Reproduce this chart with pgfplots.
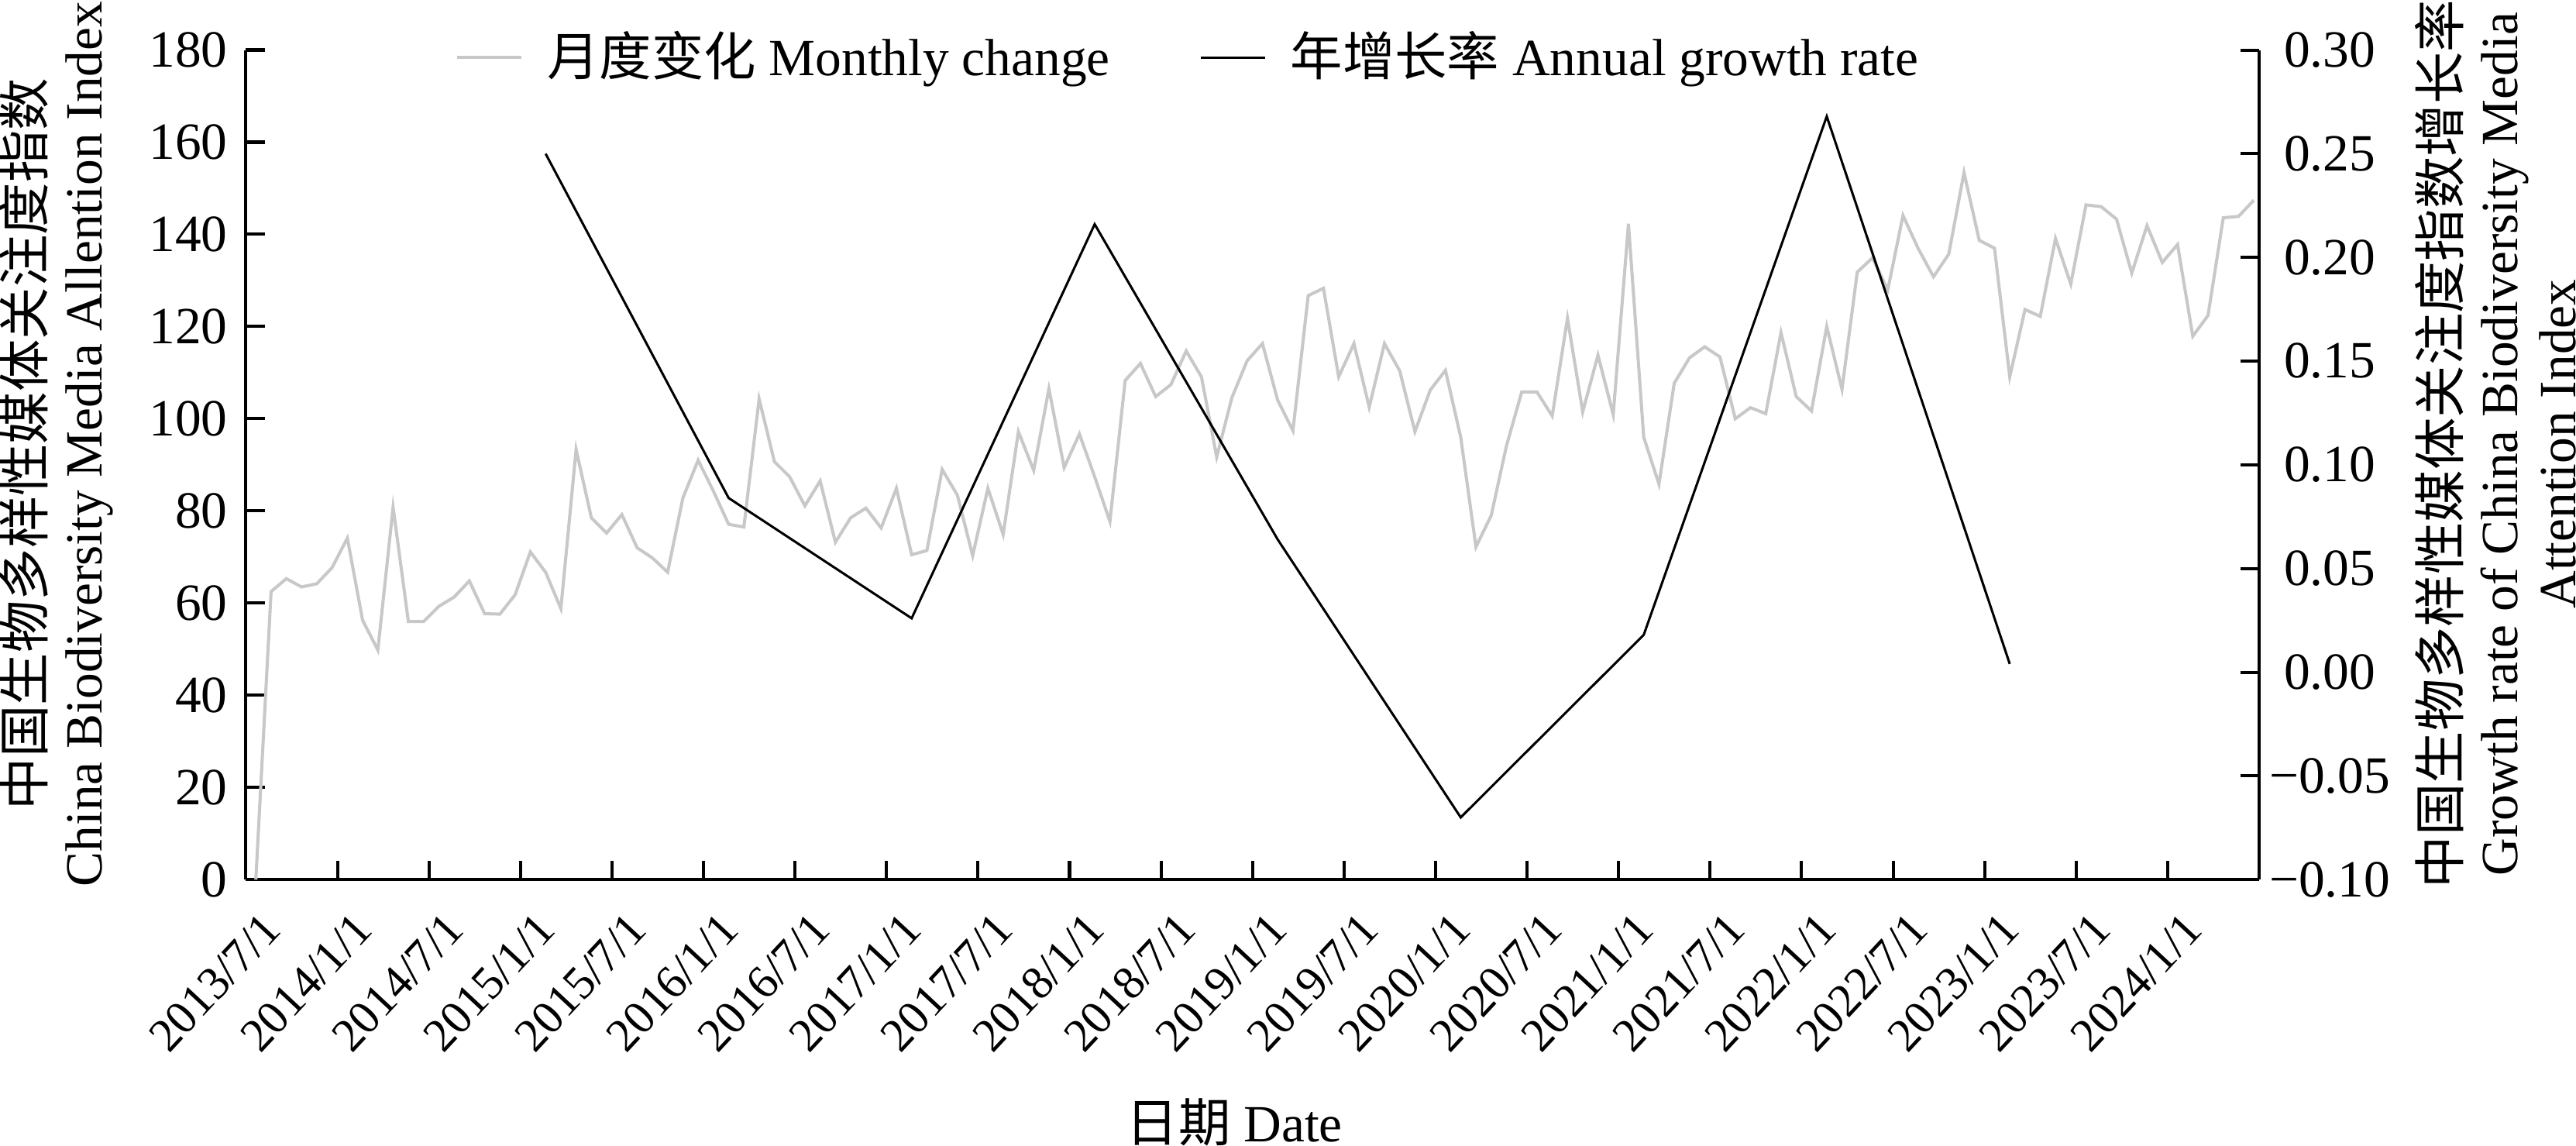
\documentclass[border=0pt]{standalone}
\usepackage{fontspec}
\usepackage{pgfplots}
\pgfplotsset{compat=1.18}
\usepackage{pgfplotstable}
\setmainfont{Liberation Serif}
\newfontfamily\cjk{Noto Sans CJK SC}
\definecolor{lgray}{RGB}{200,200,200}
\newcommand\tf{\fontsize{10}{11.1}\selectfont}

% monthly index (x = months after 2013/7/1)
\pgfplotstableread{
x y
0.65 0
1.65 62.5
2.65 65.3
3.65 63.5
4.65 64.2
5.65 67.7
6.65 74.1
7.65 56.3
8.65 49.8
9.65 80.8
10.65 56.0
11.65 56.0
12.65 59.3
13.65 61.3
14.65 64.8
15.65 57.7
16.65 57.6
17.65 61.8
18.65 71.1
19.65 66.7
20.65 58.8
21.65 93.3
22.65 78.5
23.65 75.2
24.65 79.2
25.65 72.0
26.65 69.8
27.65 66.7
28.65 82.8
29.65 91.0
30.65 84.3
31.65 77.1
32.65 76.5
33.65 104.3
34.65 90.7
35.65 87.4
36.65 81.1
37.65 86.5
38.65 73.2
39.65 78.5
40.65 80.6
41.65 76.3
42.65 84.9
43.65 70.5
44.65 71.4
45.65 89.0
46.65 83.4
47.65 70.3
48.65 84.9
49.65 74.9
50.65 97.2
51.65 88.8
52.65 106.5
53.65 89.4
54.65 96.7
55.65 87.4
56.65 77.7
57.65 108.3
58.65 112.0
59.65 104.8
60.65 107.4
61.65 114.7
62.65 109.1
63.65 91.7
64.65 104.6
65.65 112.6
66.65 116.3
67.65 104.0
68.65 97.4
69.65 126.7
70.65 128.3
71.65 109.1
72.65 116.3
73.65 102.5
74.65 116.3
75.65 110.4
76.65 97.2
77.65 106.2
78.65 110.5
79.65 96.0
80.65 72.2
81.65 79.0
82.65 94.1
83.65 105.8
84.65 105.8
85.65 100.6
86.65 121.8
87.65 101.5
88.65 113.8
89.65 100.9
90.65 142.3
91.65 96.0
92.65 85.8
93.65 107.7
94.65 113.2
95.65 115.6
96.65 113.4
97.65 100.0
98.65 102.4
99.65 101.1
100.65 118.7
101.65 104.8
102.65 101.7
103.65 120.0
104.65 106.4
105.65 131.8
106.65 134.9
107.65 127.9
108.65 144.1
109.65 136.9
110.65 130.8
111.65 135.7
112.65 153.4
113.65 138.7
114.65 137.0
115.65 109.1
116.65 123.7
117.65 122.2
118.65 139.1
119.65 129.2
120.65 146.4
121.65 146.0
122.65 143.3
123.65 131.6
124.65 141.9
125.65 133.9
126.65 137.8
127.65 117.9
128.65 122.4
129.65 143.6
130.65 143.9
131.65 147.4
}\monthly

% annual growth rate
\pgfplotstableread{
x y
19.65 0.250
31.65 0.084
43.65 0.026
55.65 0.216
67.65 0.064
79.65 -0.070
91.65 0.018
103.65 0.268
115.65 0.004
}\annual

\pgfplotsset{
  twin/.style={
    scale only axis, width=385.4pt, height=158.8pt,
    xmin=0, xmax=132,
    tick align=inside, major tick length=3.6pt,
    axis line style={line width=0.6pt},
    every tick/.style={black, line width=0.6pt},
    tick label style={font=\tf},
  }
}

\begin{document}
\begin{tikzpicture}
\begin{axis}[
  twin,
  ymin=0, ymax=180,
  axis y line*=left, axis x line*=bottom,
  xtick={0,6,...,126},
  xticklabels={2013/7/1,2014/1/1,2014/7/1,2015/1/1,2015/7/1,2016/1/1,2016/7/1,2017/1/1,2017/7/1,2018/1/1,2018/7/1,2019/1/1,2019/7/1,2020/1/1,2020/7/1,2021/1/1,2021/7/1,2022/1/1,2022/7/1,2023/1/1,2023/7/1,2024/1/1},
  xticklabel style={font=\fontsize{9}{10}\selectfont, xshift=2.7pt, yshift=-5.6pt,
    rotate=47, anchor=north east, inner sep=0pt},
  ytick={0,20,40,60,80,100,120,140,160,180},
  yticklabels={0,20,40,60,80,100,120,140,160,180},
  every axis y label/.style={at={(rel axis cs:-0.094,0.525)}, anchor=center, rotate=90,
    font=\tf, inner sep=0pt, align=center},
  ylabel={{\cjk 中国生物多样性媒体关注度指数}\\China Biodiversity Media Allention Index},
  every axis x label/.style={at={(rel axis cs:0.491,0)}, yshift=-46.4pt, anchor=center,
    font=\tf, inner sep=0pt},
  xlabel={{\cjk 日期} Date},
]
\addplot[lgray, line width=0.6pt] table[x=x, y=y] {\monthly};
\end{axis}

\begin{axis}[
  twin,
  ymin=-0.10, ymax=0.30,
  axis y line*=right, axis x line=none,
  ytick={-0.1,-0.05,0,0.05,0.1,0.15,0.2,0.25,0.3},
  yticklabels={−0.10,−0.05,0.00,0.05,0.10,0.15,0.20,0.25,0.30},
  yticklabel style={anchor=center, xshift=13.5pt},
  every axis y label/.style={at={(rel axis cs:1.1175,0.525)}, anchor=center, rotate=90,
    font=\tf, inner sep=0pt, align=center},
  ylabel={{\cjk 中国生物多样性媒体关注度指数增长率}\\Growth rate of China Biodiversity Media\\Attention Index},
  legend style={draw=none, fill=none, at={(0.47,0.991)}, anchor=center,
    legend columns=2, font=\tf,
    /tikz/every even column/.append style={column sep=15.1pt}},
  legend image code/.code={\draw[#1] (0pt,0pt) -- (12.4pt,0pt); \path (15pt,0pt);},
]
\addlegendimage{lgray, line width=0.6pt}
\addlegendentry{{\cjk 月度变化} Monthly change}
\addplot[black, line width=0.45pt] table[x=x, y=y] {\annual};
\addlegendentry{{\cjk 年增长率} Annual growth rate}
\end{axis}
\end{tikzpicture}
\end{document}
